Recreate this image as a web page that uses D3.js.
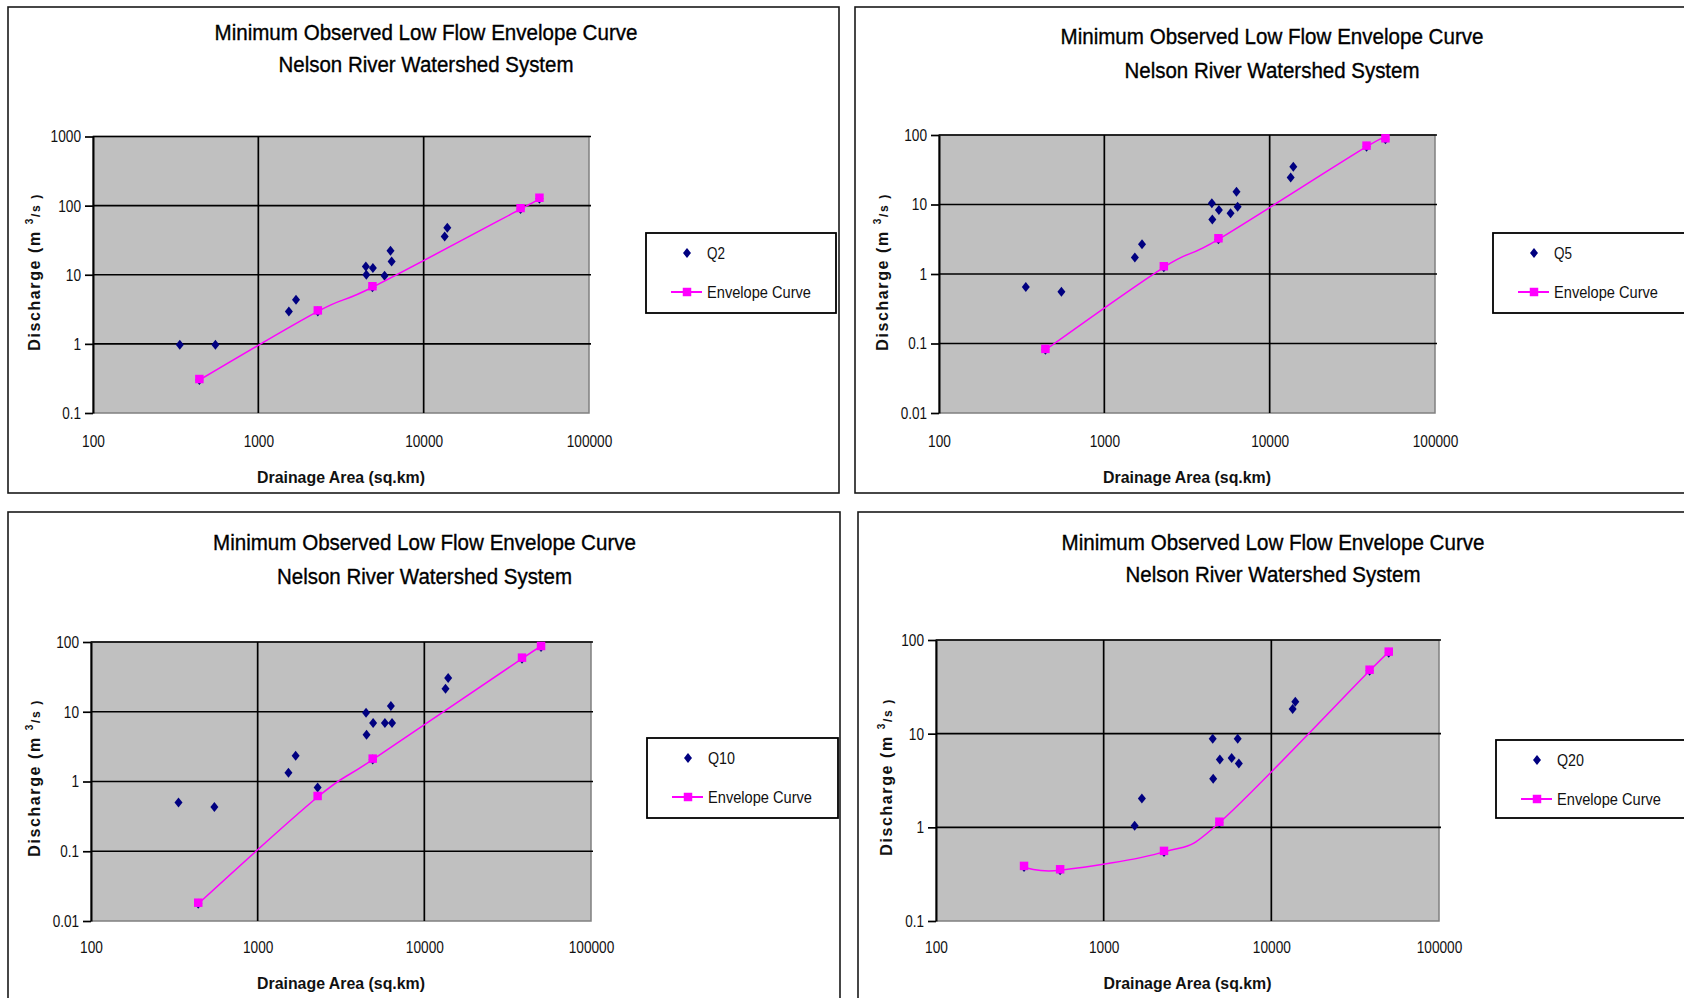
<!DOCTYPE html>
<html><head><meta charset="utf-8">
<script src="https://cdn.jsdelivr.net/npm/d3@7"></script>
<style>body{margin:0;background:#fff} svg{display:block}</style>
</head><body>
<svg id="c" width="1684" height="998"></svg>
<script>
// ---------------- DATA ----------------
const titleLine1 = "Minimum Observed Low Flow Envelope Curve";
const titleLine2 = "Nelson River Watershed System";
const xAxisTitle = "Drainage Area (sq.km)";
const xTicks = [100, 1000, 10000, 100000];
const xTickLabels = ["100", "1000", "10000", "100000"];

// drainage areas of the gauging stations (sq.km)
const stationArea = [335, 440, 550, 1530, 1690, 2290, 4470, 4500, 4900, 4930, 5800, 6300, 6400, 13400, 13900, 38550, 50150];
const q2Flow  = [0.97, 0.30, 0.97, 2.95, 4.35, 2.95, 13.2, 10.0, 6.6, 12.5, 9.7, 22.2, 15.6, 35.8, 48, 89, 126];
const q5Flow  = [0.65, 0.081, 0.555, 1.73, 2.69, 1.25, 10.4, 6.1, 3.16, 8.36, 7.5, 15.3, 9.3, 24.4, 35, 68, 86.7];
const q10Flow = [0.50, 0.0177, 0.43, 1.34, 2.34, 0.82, 9.7, 4.69, 2.06, 6.9, 6.9, 12.1, 6.9, 21.4, 30.5, 57.7, 84.8];
const q20Flow = [0.378, null, 0.348, 1.04, 2.03, 0.547, 8.8, 3.3, 1.12, 5.3, 5.5, 8.8, 4.8, 18.3, 21.9, 47, 73.3];

// envelope curves
const envArea    = [440, 2290, 4900, 38550, 50150];
const q2Env      = [0.30, 2.95, 6.6, 89, 126];
const q5Env      = [0.081, 1.25, 3.16, 68, 86.7];
const q10Env     = [0.0177, 0.60, 2.06, 57.7, 84.8];
const q20EnvArea = [335, 550, 2290, 4900, 38550, 50150];
const q20Env     = [0.378, 0.348, 0.547, 1.12, 47, 73.3];

const yTicksQ2  = [0.1, 1, 10, 100, 1000];
const yLabelsQ2 = ["0.1", "1", "10", "100", "1000"];
const yTicks4   = [0.01, 0.1, 1, 10, 100];
const yLabels4  = ["0.01", "0.1", "1", "10", "100"];
const yTicks3   = [0.1, 1, 10, 100];
const yLabels3  = ["0.1", "1", "10", "100"];

// ---------------- LAYOUT ----------------
const FONT = "'Liberation Sans Narrow','Arial Narrow','Liberation Sans',Arial,sans-serif";
const panels = [
  {name:"Q2", flow:q2Flow, envX:envArea, envY:q2Env, yT:yTicksQ2, yL:yLabelsQ2,
   box:[8,7,831,486], l:93, r:589, t:136.5, b:413, tcx:426, ty1:33, ty2:65, xty:446, xtt:477, ytx:34, ytc:272, leg:[646,233,190,80]},
  {name:"Q5", flow:q5Flow, envX:envArea, envY:q5Env, yT:yTicks4, yL:yLabels4,
   box:[855,7,845,486], l:939, r:1435, t:135, b:413, tcx:1272, ty1:37, ty2:71, xty:446, xtt:477, ytx:882, ytc:272, leg:[1493,233,220,80]},
  {name:"Q10", flow:q10Flow, envX:envArea, envY:q10Env, yT:yTicks4, yL:yLabels4,
   box:[8,512,832,520], l:91, r:591, t:642, b:921, tcx:424.5, ty1:543, ty2:577, xty:952, xtt:983, ytx:34, ytc:778, leg:[647,738,191,80]},
  {name:"Q20", flow:q20Flow, envX:q20EnvArea, envY:q20Env, yT:yTicks3, yL:yLabels3,
   box:[858,512,845,520], l:936, r:1439, t:640, b:921, tcx:1273, ty1:543, ty2:575, xty:952, xtt:983, ytx:886, ytc:777, leg:[1496,740,220,78]}
];

const svg = d3.select("#c");
const diamond = {draw(ctx, size){ const h=5, w=4; ctx.moveTo(0,-h); ctx.lineTo(w,0); ctx.lineTo(0,h); ctx.lineTo(-w,0); ctx.closePath(); }};
const diamondPath = d3.symbol().type(diamond)();
const squarePath = d3.symbol().type(d3.symbolSquare).size(72)();
const NAVY = "#000080", MAG = "#FF00FF";
const numLen = s => s.replace(/\./g,"").length*7.6 + (s.includes(".")?3.5:0);

panels.forEach(p => {
  const g = svg.append("g");
  g.append("rect").attr("x",p.box[0]).attr("y",p.box[1]).attr("width",p.box[2]).attr("height",p.box[3])
    .attr("fill","#fff").attr("stroke","#1a1a1a").attr("stroke-width",1.6);

  const x = d3.scaleLog().domain([100,100000]).range([p.l,p.r]);
  const y = d3.scaleLog().domain([p.yT[0], p.yT[p.yT.length-1]]).range([p.b,p.t]);

  // title
  [[titleLine1,p.ty1,423],[titleLine2,p.ty2,295]].forEach(([s,yy,len]) => {
    g.append("text").attr("x",p.tcx).attr("y",yy+7).attr("text-anchor","middle")
      .attr("font-family",FONT).attr("font-size",22).attr("fill","#000")
      .attr("stroke","#000").attr("stroke-width",0.35)
      .attr("textLength",len).attr("lengthAdjust","spacingAndGlyphs").text(s);
  });

  // plot area
  g.append("rect").attr("x",p.l).attr("y",p.t).attr("width",p.r-p.l).attr("height",p.b-p.t)
    .attr("fill","#C0C0C0").attr("stroke","#808080").attr("stroke-width",1.5);

  // horizontal gridlines
  g.selectAll("line.hg").data(p.yT.slice(1)).join("line").attr("class","hg")
    .attr("x1",p.l).attr("x2",p.r+2).attr("y1",d=>y(d)).attr("y2",d=>y(d))
    .attr("stroke","#000").attr("stroke-width",1.7);
  // vertical gridlines
  g.selectAll("line.vg").data(xTicks.slice(1,-1)).join("line").attr("class","vg")
    .attr("x1",d=>x(d)).attr("x2",d=>x(d)).attr("y1",p.t).attr("y2",p.b)
    .attr("stroke","#000").attr("stroke-width",1.7);

  // y axis
  const ya = g.append("g").attr("transform",`translate(${p.l},0)`)
    .call(d3.axisLeft(y).tickValues(p.yT).tickFormat((d,i)=>p.yL[i]).tickSize(8).tickSizeOuter(0).tickPadding(4));
  ya.select(".domain").attr("stroke","#000").attr("stroke-width",2);
  ya.selectAll(".tick line").attr("stroke","#000").attr("stroke-width",1.7);
  ya.selectAll(".tick text").attr("font-family",FONT).attr("font-size",17).attr("fill","#111")
    .attr("textLength",function(){return numLen(this.textContent);}).attr("lengthAdjust","spacingAndGlyphs");

  // x axis labels
  const xa = g.append("g").attr("transform",`translate(0,${p.b})`)
    .call(d3.axisBottom(x).tickValues(xTicks).tickFormat((d,i)=>xTickLabels[i]).tickSize(0).tickPadding(p.xty-p.b-11));
  xa.select(".domain").remove();
  xa.selectAll(".tick text").attr("font-family",FONT).attr("font-size",17).attr("fill","#111")
    .attr("textLength",function(){return numLen(this.textContent);}).attr("lengthAdjust","spacingAndGlyphs");

  // axis titles
  g.append("text").attr("x",(p.l+p.r)/2).attr("y",p.xtt+6).attr("text-anchor","middle")
    .attr("font-family",FONT).attr("font-size",17).attr("font-weight","bold").attr("fill","#111")
    .attr("textLength",168).attr("lengthAdjust","spacingAndGlyphs").text(xAxisTitle);
  const yt = g.append("text").attr("transform",`translate(${p.ytx+6},${p.ytc}) rotate(-90)`)
    .attr("text-anchor","middle").attr("font-family",FONT).attr("font-size",16).attr("font-weight","bold")
    .attr("fill","#111").attr("letter-spacing",1.6);
  yt.append("tspan").text("Discharge  (m ");
  yt.append("tspan").attr("dy",-7).attr("font-size",10).text("3");
  yt.append("tspan").attr("dy",7).attr("font-size",12).text("/s )");

  // clip
  const cid = "clip"+p.name;
  g.append("clipPath").attr("id",cid).append("rect").attr("x",p.l-6).attr("y",p.t-6).attr("width",p.r-p.l+12).attr("height",p.b-p.t+12);
  const mg = g.append("g").attr("clip-path",`url(#${cid})`);

  // observed points
  const pts = stationArea.map((a,i)=>({a, v:p.flow[i]})).filter(d=>d.v!=null);
  mg.selectAll("path.obs").data(pts).join("path").attr("class","obs")
    .attr("d",diamondPath).attr("transform",d=>`translate(${x(d.a)},${y(d.v)})`).attr("fill",NAVY);

  // envelope
  const env = p.envX.map((a,i)=>({a, v:p.envY[i]}));
  mg.append("path").datum(env)
    .attr("d", d3.line().x(d=>x(d.a)).y(d=>y(d.v)).curve(d3.curveCatmullRom.alpha(0)))
    .attr("fill","none").attr("stroke",MAG).attr("stroke-width",1.5);
  mg.selectAll("path.env").data(env).join("path").attr("class","env")
    .attr("d",squarePath).attr("transform",d=>`translate(${x(d.a)},${y(d.v)-1})`).attr("fill",MAG);

  // legend
  const [lx,ly,lw,lh] = p.leg;
  const lg = g.append("g");
  lg.append("rect").attr("x",lx).attr("y",ly).attr("width",lw).attr("height",lh)
    .attr("fill","#fff").attr("stroke","#000").attr("stroke-width",1.8);
  lg.append("path").attr("d",diamondPath).attr("transform",`translate(${lx+41},${ly+20})`).attr("fill",NAVY);
  lg.append("text").attr("x",lx+61).attr("y",ly+26).attr("font-family",FONT).attr("font-size",17).attr("fill","#111")
    .attr("textLength",p.name.length*9).attr("lengthAdjust","spacingAndGlyphs").text(p.name);
  lg.append("line").attr("x1",lx+25).attr("x2",lx+56).attr("y1",ly+59).attr("y2",ly+59).attr("stroke",MAG).attr("stroke-width",2);
  lg.append("path").attr("d",squarePath).attr("transform",`translate(${lx+41},${ly+59})`).attr("fill",MAG);
  lg.append("text").attr("x",lx+61).attr("y",ly+65).attr("font-family",FONT).attr("font-size",17).attr("fill","#111")
    .attr("textLength",104).attr("lengthAdjust","spacingAndGlyphs").text("Envelope Curve");
});
</script>
</body></html>
